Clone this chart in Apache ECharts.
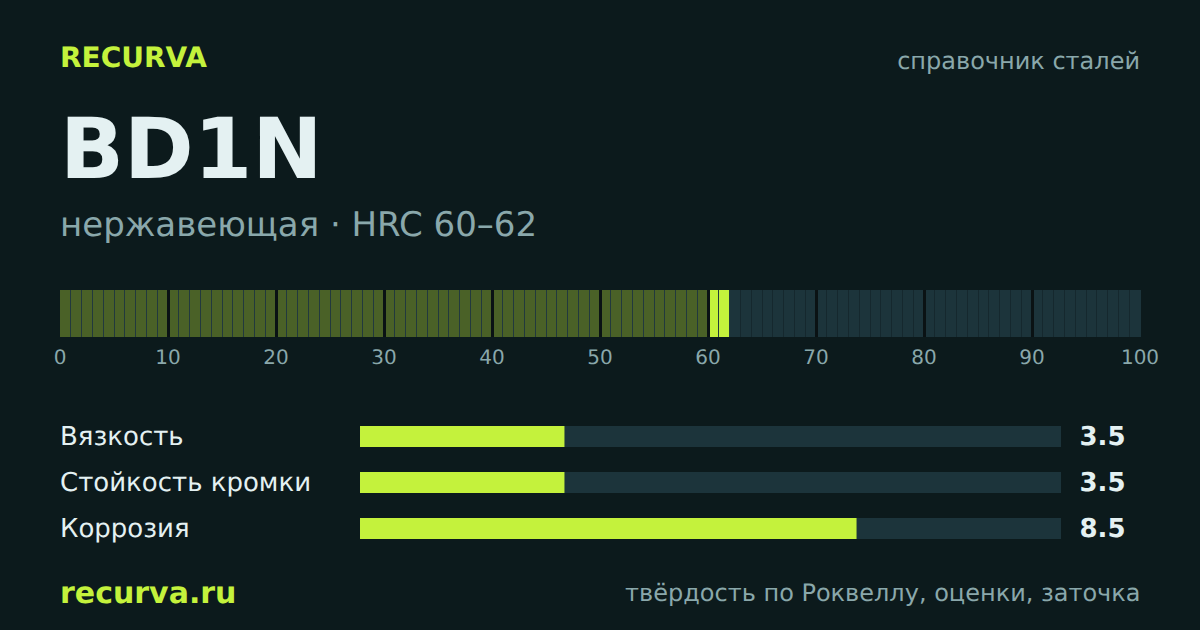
<!DOCTYPE html>
<html><head><meta charset="utf-8">
<style>html,body{margin:0;padding:0;background:#0c1a1c}#c{width:1200px;height:630px}#c text{text-rendering:geometricPrecision}</style>
<script src="https://cdn.jsdelivr.net/npm/echarts@6/dist/echarts.min.js"></script>
</head><body><div id="c"></div>
<script>
const brand = 'RECURVA';
const topRight = 'справочник сталей';
const steel = 'BD1N';
const subtitle = 'нержавеющая · HRC 60–62';
const site = 'recurva.ru';
const footer = 'твёрдость по Роквеллу, оценки, заточка';
const hrcLow = 60, hrcHigh = 62;
const scaleCells = Array.from({length: 100}, (_, i) => i);
const scaleTicks = [0,10,20,30,40,50,60,70,80,90,100];
const majorTicks = [10,20,30,40,50,60,70,80,90];
const metrics = ['Вязкость','Стойкость кромки','Коррозия'];
const scores = [3.5,3.5,8.5];
const scoreMax = 12;

const BG='#0c1a1c', LIME='#c4f23c', DIM='#4a6127', TRACK='#1c343b', MUTED='#8aa8ab', LIGHT='#e4f1f2', GAP='#0a1214', SEAM_A='#22393d', SEAM_B='#15282e';
const FF='"DejaVu Sans"';
const chart = echarts.init(document.getElementById('c'), null, {renderer:'svg'});
const txt=(x,y,t,size,fill,weight,align)=>({type:'text',x,y,silent:true,style:{text:t,font:`${weight||'normal'} ${size}px ${FF}`,fill,textAlign:align||'left',textVerticalAlign:'middle'}});
chart.setOption({
  backgroundColor:BG, animation:false,
  graphic:[
    txt(60,57,brand,28,LIME,'bold'),
    txt(1140,61,topRight,24,MUTED,'normal','right'),
    txt(60,149,steel,84,LIGHT,'bold'),
    txt(60,225,subtitle,34,MUTED),
    txt(60,593,site,30,LIME,'bold'),
    txt(1140.5,593,footer,24,MUTED,'normal','right')
  ],
  grid:[
    {left:60,width:1080,top:290,height:47},
    {left:360,width:701,top:413.5,height:138}
  ],
  xAxis:[
    {gridIndex:0,type:'value',min:0,max:100,interval:10,splitLine:{show:false},axisLine:{show:false},axisTick:{show:false},
     axisLabel:{color:MUTED,fontFamily:FF,fontSize:20,margin:10,showMinLabel:true,showMaxLabel:true,customValues:scaleTicks}},
    {gridIndex:1,type:'value',min:0,max:scoreMax,show:false}
  ],
  yAxis:[
    {gridIndex:0,type:'value',min:0,max:1,show:false},
    {gridIndex:1,type:'category',data:metrics,inverse:true,axisLine:{show:false},axisTick:{show:false},
     axisLabel:{color:LIGHT,fontFamily:FF,fontSize:26,align:'left',margin:300,padding:[2,0,0,0]}}
  ],
  series:[
    {type:'custom',xAxisIndex:0,yAxisIndex:0,silent:true,clip:false,data:scaleCells,
     renderItem(p,api){
       const i=api.value(0), a=api.coord([i,0]), b=api.coord([i+1,1]);
       const c=(i>=hrcLow&&i<hrcHigh)?LIME:(i<hrcLow?DIM:TRACK);
       const seam=i<hrcHigh?SEAM_A:SEAM_B;
       const x0=i?Math.round(a[0]+0.5):a[0];
       const x1=i<99?Math.round(a[0]+10.3):b[0]+1;
       const h=a[1]-b[1];
       return {type:'group',children:[
         {type:'rect',shape:{x:x1,y:b[1],width:i<99?1:0,height:h},style:{fill:seam}},
         {type:'rect',shape:{x:x0,y:b[1],width:x1-x0,height:h},style:{fill:c}}
       ]};
     }},
    {type:'custom',xAxisIndex:0,yAxisIndex:0,silent:true,clip:false,data:majorTicks,z:5,
     renderItem(p,api){
       const a=api.coord([api.value(0),0]), b=api.coord([api.value(0),1]);
       return {type:'rect',shape:{x:Math.round(a[0])-1,y:b[1],width:3,height:a[1]-b[1]},style:{fill:GAP}};
     }},
    {type:'bar',xAxisIndex:1,yAxisIndex:1,data:scores.map(()=>scoreMax),barWidth:21,barGap:'-100%',silent:true,itemStyle:{color:TRACK},
     label:{show:true,position:'right',distance:18.5,padding:[2,0,0,0],formatter:p=>scores[p.dataIndex].toFixed(1),color:LIGHT,fontFamily:FF,fontSize:26,fontWeight:'bold'}},
    {type:'bar',xAxisIndex:1,yAxisIndex:1,data:scores,barWidth:21,barGap:'-100%',silent:true,itemStyle:{color:LIME}}
  ]
});
</script></body></html>
